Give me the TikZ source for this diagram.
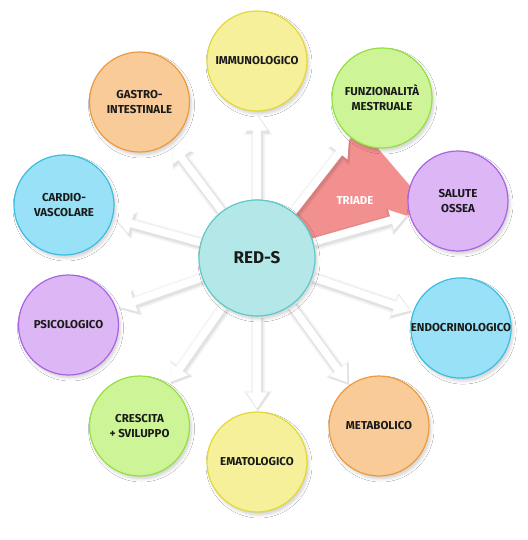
\documentclass[tikz,border=0pt]{standalone}
\usepackage{fontspec}
\setmainfont{Fira Sans}
\usetikzlibrary{arrows.meta,calc,shadows.blur}
\definecolor{ink}{HTML}{1A1A1A}
\definecolor{tealfill}{HTML}{B4E8E8}
\definecolor{tealline}{HTML}{5FC8C8}
\definecolor{yelfill}{HTML}{F7F09B}
\definecolor{yelline}{HTML}{E3D83A}
\definecolor{orafill}{HTML}{F8CB99}
\definecolor{oraline}{HTML}{EE9A3C}
\definecolor{grnfill}{HTML}{CDF597}
\definecolor{grnline}{HTML}{93E040}
\definecolor{purfill}{HTML}{DDB6F6}
\definecolor{purline}{HTML}{A963E6}
\definecolor{blufill}{HTML}{99E1F6}
\definecolor{bluline}{HTML}{3DBDE2}
\definecolor{triadepink}{HTML}{F28F8F}
\pgfdeclarelayer{bg}
\pgfsetlayers{bg,main}

\begin{document}
\begin{tikzpicture}[x=1pt,y=-1pt,
  bubble/.style={circle,minimum size=100pt,inner sep=0pt,line width=1.2pt,align=center,text=ink,
    font=\bfseries\fontsize{11.5}{15}\selectfont,
    blur shadow={shadow xshift=2pt,shadow yshift=-3pt,shadow opacity=18,shadow blur radius=3pt}},
  yel/.style={fill=yelfill,draw=yelline},
  ora/.style={fill=orafill,draw=oraline},
  grn/.style={fill=grnfill,draw=grnline},
  pur/.style={fill=purfill,draw=purline},
  blu/.style={fill=blufill,draw=bluline},
  spoke/.style={line width=7.5pt,white,-{Triangle[width=20pt,length=16pt]},shorten >=3pt},
  spokeglow/.style={line width=14pt,black,-{Triangle[width=27pt,length=21pt]},shorten >=1pt,
    transform canvas={xshift=1pt,yshift=-1.5pt}},
  spokeshade/.style={line width=10.5pt,black,-{Triangle[width=24pt,length=18.5pt]},shorten >=2pt,
    transform canvas={xshift=1pt,yshift=-1.5pt}}]
\useasboundingbox (0,0) rectangle (527,540);

% centre
\node[bubble,fill=tealfill,draw=tealline,minimum size=116pt,font=\bfseries\fontsize{17}{20}\selectfont] (reds) at (257,258) {RED-S};

% outer ring
\node[bubble,yel] (immuno) at (257,61) {IMMUNOLOGICO};
\node[bubble,grn] (funz) at (382,98) {FUNZIONALITÀ\\MESTRUALE};
\node[bubble,pur] (salute) at (458,201) {SALUTE\\OSSEA};
\node[bubble,blu] (endo) at (461,328) {ENDOCRINOLOGICO};
\node[bubble,ora] (metab) at (379,426) {METABOLICO};
\node[bubble,yel] (emat) at (257,462) {EMATOLOGICO};
\node[bubble,grn] (cresc) at (139.5,426) {CRESCITA\\+ SVILUPPO};
\node[bubble,pur] (psico) at (68.5,325) {PSICOLOGICO};
\node[bubble,blu] (cardio) at (64,205) {CARDIO-\\VASCOLARE};
\node[bubble,ora] (gastro) at (139.5,102) {GASTRO-\\INTESTINALE};

\node[text=white,font=\bfseries\fontsize{11.5}{13}\selectfont] (triade) at (355,201) {TRIADE};

\begin{pgfonlayer}{bg}
\fill[white] (0,0) rectangle (527,540);
% triad wedge
\fill[triadepink] (reds.center) -- ($(reds)!0.82!(funz)$) -- ($(reds)!0.86!(salute)$) -- cycle;
% spokes, soft shadow first
\begin{scope}[transparency group,opacity=0.045]
\foreach \n in {immuno,funz,salute,endo,metab,emat,cresc,psico,cardio,gastro}
  \draw[spokeglow] (reds) -- (\n);
\end{scope}
\begin{scope}[transparency group,opacity=0.07]
\foreach \n in {immuno,funz,salute,endo,metab,emat,cresc,psico,cardio,gastro}
  \draw[spokeshade] (reds) -- (\n);
\end{scope}
\foreach \n in {immuno,funz,salute,endo,metab,emat,cresc,psico,cardio,gastro}
  \draw[spoke] (reds) -- (\n);
\end{pgfonlayer}
\end{tikzpicture}
\end{document}
